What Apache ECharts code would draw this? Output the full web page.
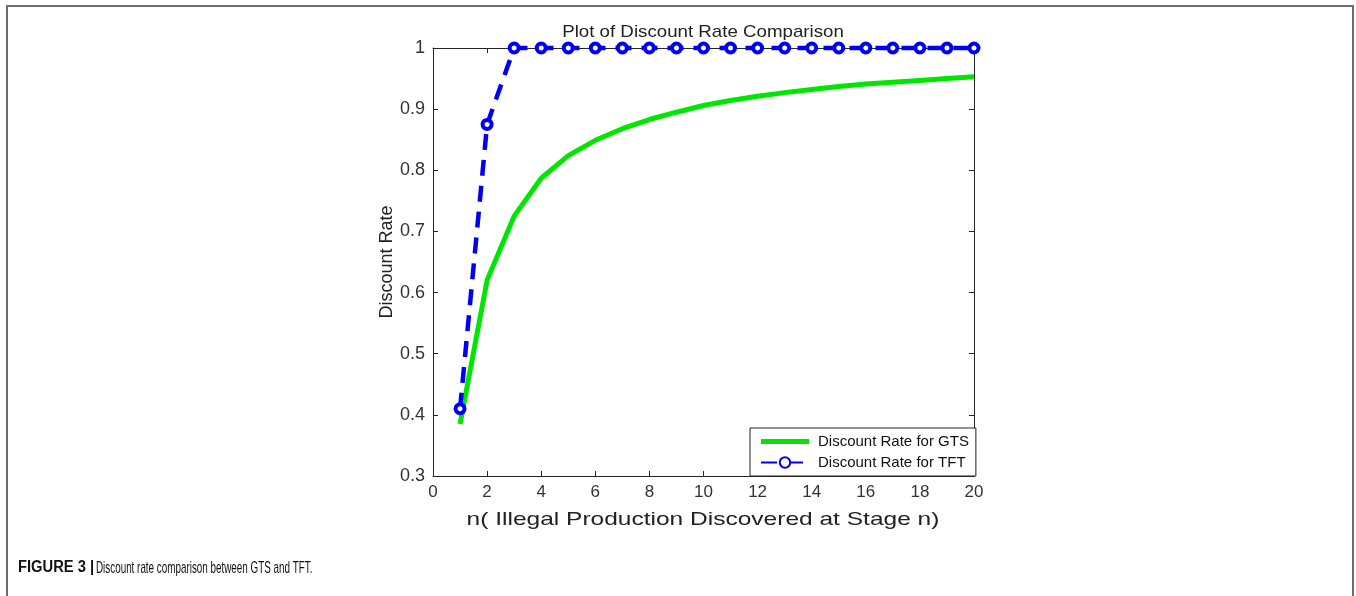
<!DOCTYPE html>
<html>
<head>
<meta charset="utf-8">
<script src="https://cdn.jsdelivr.net/npm/echarts@6/dist/echarts.min.js"></script>
<style>
html,body{margin:0;padding:0;background:#fff;}
#chart{width:1356px;height:596px;}
</style>
</head>
<body>
<div id="chart"></div>
<script>
const nValues = [1,2,3,4,5,6,7,8,9,10,11,12,13,14,15,16,17,18,19,20];
const gtsRate = [0.385,0.62,0.725,0.787,0.824,0.849,0.868,0.883,0.895,0.906,0.914,0.921,0.927,0.932,0.937,0.941,0.944,0.947,0.950,0.953];
const tftRate = [0.41,0.875,1,1,1,1,1,1,1,1,1,1,1,1,1,1,1,1,1,1];
const xTicks = [0,2,4,6,8,10,12,14,16,18,20];
const yTicks = [0.3,0.4,0.5,0.6,0.7,0.8,0.9,1];
const titleText = 'Plot of Discount Rate Comparison';
const xName = 'n( Illegal Production Discovered at Stage n)';
const yName = 'Discount Rate';
const seriesNames = ['Discount Rate for GTS','Discount Rate for TFT'];
const captionBold = 'FIGURE 3 |';
const captionText = 'Discount rate comparison between GTS and TFT.';

const FONT = "'Liberation Sans', Arial, sans-serif";
const AX = '#262626';
const GREEN = '#00e600';
const BLUE = '#0000f5';
const chart = echarts.init(document.getElementById('chart'));

const pair = (xs, ys) => xs.map((x,i)=>[x, ys[i]]);

const baseX = {
  type:'value', min:xTicks[0], max:xTicks[xTicks.length-1], interval:2,
  axisLine:{show:true, onZero:false, lineStyle:{color:AX, width:1}},
  axisTick:{show:true, inside:true, length:5, lineStyle:{color:AX}},
  splitLine:{show:false}
};
const baseY = {
  type:'value', min:yTicks[0], max:yTicks[yTicks.length-1], interval:0.1,
  axisLine:{show:true, onZero:false, lineStyle:{color:AX, width:1}},
  axisTick:{show:true, inside:true, length:5, lineStyle:{color:AX}},
  splitLine:{show:false}
};

chart.setOption({
  backgroundColor:'#fff',
  animation:false,
  grid:{left:433, right:382, top:48, bottom:120, containLabel:false},
  legend:{
    orient:'vertical', left:750, top:428,
    backgroundColor:'#fff', borderColor:'#222', borderWidth:1,
    padding:[6,7,6,10], itemGap:6, itemWidth:48, itemHeight:13,
    symbolKeepAspect:false,
    textStyle:{fontFamily:FONT, fontSize:15, color:'#111', padding:[0,0,0,4]},
    data:[
      {name:seriesNames[0], icon:'path://M0,0H0.2V0.05H0Z M0,4H48V9H0Z M47.8,12.95H48V13H47.8Z'},
      {name:seriesNames[1]}
    ]
  },
  xAxis:[
    Object.assign({}, baseX, {
      position:'bottom',
      axisLabel:{fontFamily:FONT, fontSize:17, color:'#333', margin:8}
    }),
    Object.assign({}, baseX, {position:'top', axisLabel:{show:false}})
  ],
  yAxis:[
    Object.assign({}, baseY, {
      position:'left',
      name:yName, nameLocation:'middle', nameGap:37, nameRotate:90,
      nameTextStyle:{fontFamily:FONT, fontSize:18, color:'#222'},
      axisLabel:{fontFamily:FONT, fontSize:18, color:'#333', margin:8,
        formatter:v=>String(+v.toFixed(1))}
    }),
    Object.assign({}, baseY, {position:'right', axisLabel:{show:false}})
  ],
  graphic:[
    {type:'rect', shape:{x:7, y:6, width:1346, height:620},
      style:{fill:'none', stroke:'#6e6e6e', lineWidth:2}, silent:true, z:-1},
    {type:'text', x:703, y:32, scaleX:1.1, scaleY:1,
      style:{text:titleText, font:"17px 'Liberation Sans', Arial", fill:'#222',
        align:'center', verticalAlign:'middle'}},
    {type:'text', x:703, y:520, scaleX:1.29, scaleY:1,
      style:{text:xName, font:"19px 'Liberation Sans', Arial", fill:'#222',
        align:'center', verticalAlign:'middle'}},
    {type:'text', x:18, y:568, scaleX:0.92, scaleY:1,
      style:{text:captionBold, font:"bold 16px 'Liberation Sans', Arial", fill:'#111', verticalAlign:'middle'}},
    {type:'text', x:96, y:568, scaleX:0.58, scaleY:1,
      style:{text:captionText, font:"17px 'Liberation Sans', Arial", fill:'#111', verticalAlign:'middle'}}
  ],
  series:[
    {
      name:seriesNames[0], type:'line', xAxisIndex:0, yAxisIndex:0,
      data:pair(nValues, gtsRate), smooth:false, showSymbol:false, symbol:'none',
      lineStyle:{color:GREEN, width:5}, itemStyle:{color:GREEN}, clip:false, z:2
    },
    {
      name:seriesNames[1], type:'line', xAxisIndex:0, yAxisIndex:0,
      data:pair(nValues, tftRate), symbol:'circle', symbolSize:9, showSymbol:true,
      lineStyle:{color:BLUE, width:4.5, type:[16,10]},
      itemStyle:{color:'#fff', borderColor:BLUE, borderWidth:4},
      clip:false, z:3
    }
  ]
});
</script>
</body>
</html>
